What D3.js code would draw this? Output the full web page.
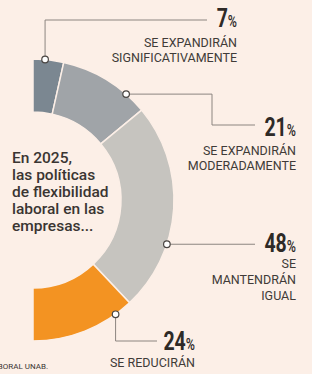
<!DOCTYPE html>
<html>
<head>
<meta charset="utf-8">
<script src="https://cdn.jsdelivr.net/npm/d3@7"></script>
<style>
  body { margin: 0; background: #fcefe7; }
  svg { display: block; }
</style>
</head>
<body>
<svg id="canvas"></svg>
<script>
// data
let categories = ['Se expandirán significativamente', 'Se expandirán moderadamente', 'Se mantendrán igual', 'Se reducirán'];
let values = [7, 21, 48, 24];
let labelLines = [
    ['SE EXPANDIRÁN', 'SIGNIFICATIVAMENTE'],
    ['SE EXPANDIRÁN', 'MODERADAMENTE'],
    ['SE', 'MANTENDRÁN', 'IGUAL'],
    ['SE REDUCIRÁN']
];
let titleLines = ['En 2025,', 'las políticas', 'de flexibilidad', 'laboral en las', 'empresas...'];
let sourceText = 'FUENTE: OBSERVATORIO LABORAL UNAB.';

let colors = ['#7b8791', '#a0a4a8', '#c6c4bf', '#f39322'];

let width = 312;
let height = 374;
let cx = 33, cy = 200;
let outerR = 141, innerR = 88;

// where each callout sits (layout only)
let callouts = [
    {frac: 0.39, path: (p) => [[p[0], 20], [207, 20]], x: 237, numY: 27, textY: 47, lh: 15},
    {frac: 0.76, path: (p) => [[212, p[1]], [212, 125], [255, 125]], x: 296, numY: 136, textY: 155, lh: 15},
    {frac: 0.67, path: (p) => [[255, p[1]]], x: 296, numY: 252, textY: 268, lh: 16},
    {frac: 0.17, path: (p) => [[p[0], 341], [157, 341]], x: 195, numY: 350, textY: 367, lh: 15}
];

let svg = d3.select('#canvas')
    .attr('width', width)
    .attr('height', height);

let pie = d3.pie().sort(null).startAngle(0).endAngle(Math.PI);
let arcs = pie(values);
let arc = d3.arc().innerRadius(innerR).outerRadius(outerR);

let donut = svg.append('g').attr('transform', 'translate(' + cx + ',' + cy + ')');
donut.selectAll('path')
    .data(arcs)
    .enter()
    .append('path')
    .attr('d', arc)
    .attr('fill', (d, i) => colors[i])
    .attr('stroke', '#fcefe7')
    .attr('stroke-width', 1.5);

/*callout lines, dots and labels*/
arcs.forEach((a, i) => {
    let c = callouts[i];
    let ang = a.startAngle + (a.endAngle - a.startAngle) * c.frac;
    let p = [cx + outerR * Math.sin(ang), cy - outerR * Math.cos(ang)];
    let pts = [p].concat(c.path(p));

    svg.append('path')
        .attr('d', d3.line()(pts))
        .attr('fill', 'none')
        .attr('stroke', '#8c8580')
        .attr('stroke-width', 1);

    svg.append('circle')
        .attr('cx', p[0])
        .attr('cy', p[1])
        .attr('r', 3.3)
        .attr('fill', '#fff')
        .attr('stroke', '#4a4542')
        .attr('stroke-width', 1.2);

    let num = svg.append('g')
        .attr('transform', 'translate(' + c.x + ',' + c.numY + ') scale(0.78,1)')
        .append('text')
        .attr('text-anchor', 'end')
        .attr('font-family', 'Roboto, sans-serif')
        .attr('font-weight', 700)
        .attr('fill', '#2e2a27');
    num.append('tspan').attr('font-size', 25).text(values[i]);
    num.append('tspan').attr('font-size', 16).attr('font-weight', 500).text('%');

    svg.append('g')
        .selectAll('text')
        .data(labelLines[i])
        .enter()
        .append('text')
        .attr('x', c.x)
        .attr('y', (d, j) => c.textY + j * c.lh)
        .attr('text-anchor', 'end')
        .attr('font-family', 'Roboto, sans-serif')
        .attr('font-size', 12.5)
        .attr('fill', '#403b38')
        .text(d => d);
});

/*text inside the half donut*/
svg.append('g')
    .selectAll('text')
    .data(titleLines)
    .enter()
    .append('text')
    .attr('x', 12)
    .attr('y', (d, i) => 163 + i * 17)
    .attr('font-family', 'Roboto, sans-serif')
    .attr('font-weight', 500)
    .attr('font-size', 15.5)
    .attr('fill', '#3a3532')
    .text(d => d);

svg.append('text')
    .attr('x', 48)
    .attr('y', 369)
    .attr('text-anchor', 'end')
    .attr('font-family', 'Roboto, sans-serif')
    .attr('font-size', 8)
    .attr('fill', '#3a3532')
    .text(sourceText);
</script>
</body>
</html>
